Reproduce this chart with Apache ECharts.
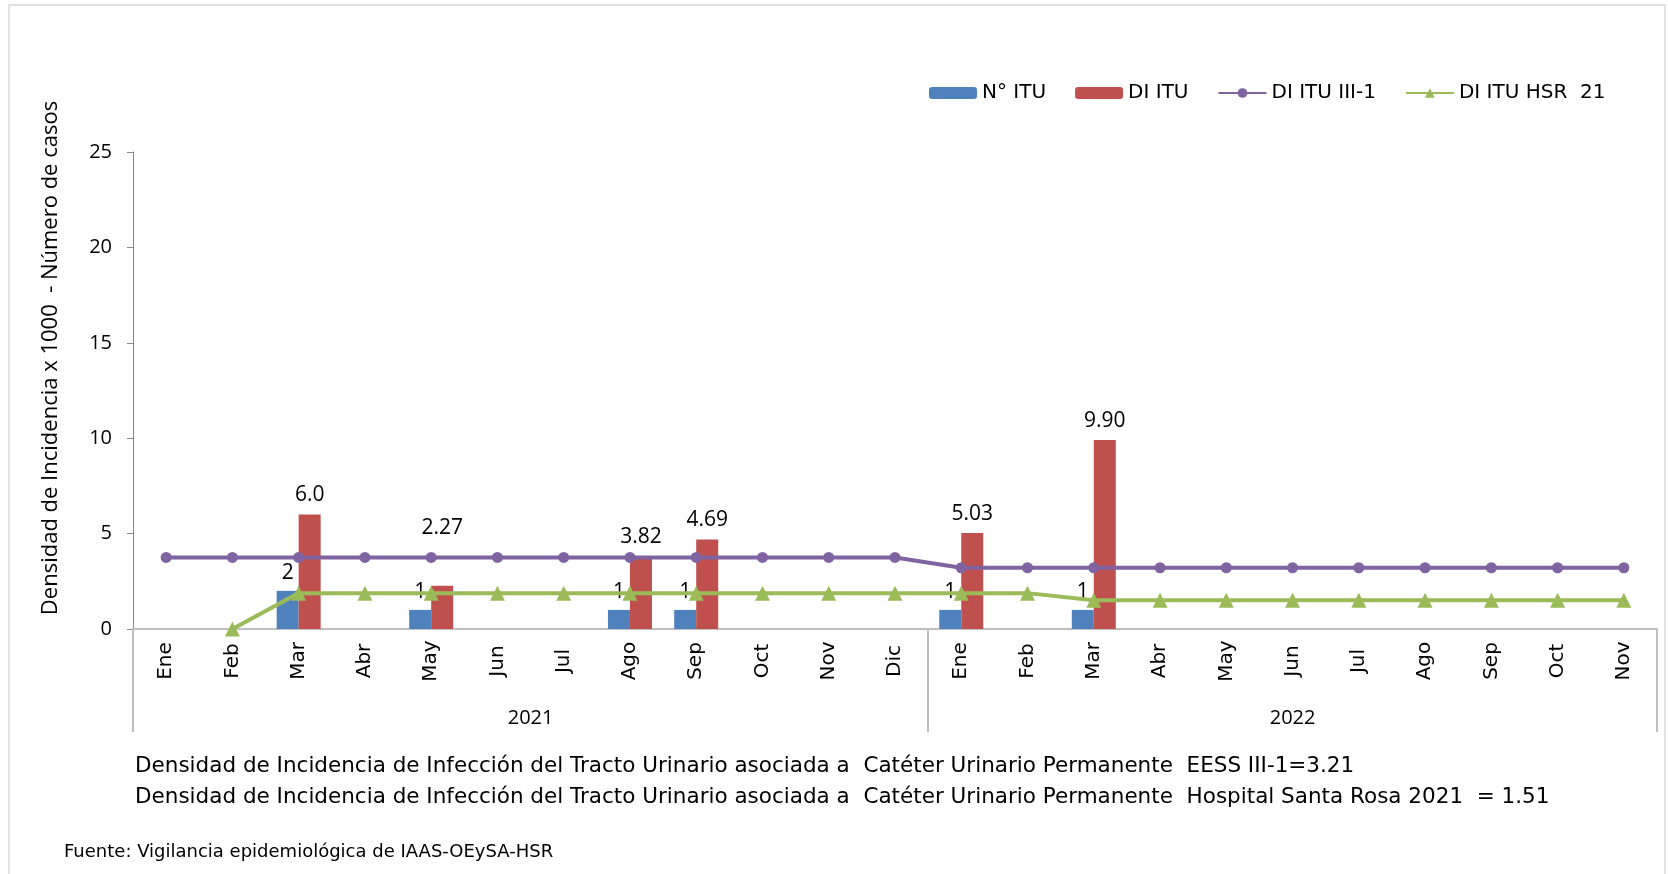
<!DOCTYPE html>
<html>
<head>
<meta charset="utf-8">
<script src="https://cdn.jsdelivr.net/npm/echarts@6/dist/echarts.min.js"></script>
<style>
  html, body { margin: 0; padding: 0; background: #fff; }
  #chart { width: 1668px; height: 874px; }
</style>
</head>
<body>
<div id="chart"></div>
<script>
const months = ['Ene', 'Feb', 'Mar', 'Abr', 'May', 'Jun', 'Jul', 'Ago', 'Sep', 'Oct', 'Nov', 'Dic',
  'Ene', 'Feb', 'Mar', 'Abr', 'May', 'Jun', 'Jul', 'Ago', 'Sep', 'Oct', 'Nov'];
const years = ['2021', '2022'];
const yearSpan = [12, 11];

const nItu = [null, null, 2, null, 1, null, null, 1, 1, null, null, null,
  1, null, 1, null, null, null, null, null, null, null, null];
const diItu = [null, null, 6.0, null, 2.27, null, null, 3.82, 4.69, null, null, null,
  5.03, null, 9.90, null, null, null, null, null, null, null, null];
const diItuLabels = ['', '', '6.0', '', '2.27', '', '', '3.82', '4.69', '', '', '',
  '5.03', '', '9.90', '', '', '', '', '', '', '', ''];
const diItuIII1 = [3.75, 3.75, 3.75, 3.75, 3.75, 3.75, 3.75, 3.75, 3.75, 3.75, 3.75, 3.75,
  3.21, 3.21, 3.21, 3.21, 3.21, 3.21, 3.21, 3.21, 3.21, 3.21, 3.21];
const diItuHsr = [null, 0, 1.88, 1.88, 1.88, 1.88, 1.88, 1.88, 1.88, 1.88, 1.88, 1.88,
  1.88, 1.88, 1.51, 1.51, 1.51, 1.51, 1.51, 1.51, 1.51, 1.51, 1.51];

const yTicks = [0, 5, 10, 15, 20, 25];
const notes = [
  'Densidad de Incidencia de Infección del Tracto Urinario asociada a  Catéter Urinario Permanente  EESS III-1=3.21',
  'Densidad de Incidencia de Infección del Tracto Urinario asociada a  Catéter Urinario Permanente  Hospital Santa Rosa 2021  = 1.51'
];
const fuente = 'Fuente: Vigilancia epidemiológica de IAAS-OEySA-HSR';

const FONT = '"Open Sans", "Liberation Sans", sans-serif';
const WIDE = '"DejaVu Sans", sans-serif';

// year separators and label centres on a 0..23 scale
const yearEdges = [0];
yearSpan.forEach(s => yearEdges.push(yearEdges[yearEdges.length - 1] + s));
const yearCenters = years.map((y, i) => (yearEdges[i] + yearEdges[i + 1]) / 2);

// the 2.27 label sits higher in the original
const redLift = diItu.map((v, i) => (i === 4 ? 47 : 9));

const chart = echarts.init(document.getElementById('chart'));
chart.setOption({
  animation: false,
  textStyle: { fontFamily: FONT },
  grid: { left: 133, right: 11, top: 152, bottom: 245, containLabel: false },
  legend: {
    left: 924,
    top: 78,
    itemWidth: 48,
    itemHeight: 12,
    itemGap: 29,
    textStyle: { fontSize: 20, color: '#000', fontFamily: WIDE },
    data: ['N° ITU', 'DI ITU', 'DI ITU III-1', 'DI ITU HSR  21']
  },
  xAxis: [
    {
      type: 'category',
      data: months,
      axisLine: { lineStyle: { color: '#bfbfbf', width: 2 } },
      axisTick: { show: false },
      axisLabel: {
        rotate: 90,
        align: 'center',
        verticalAlign: 'middle',
        margin: 32,
        fontSize: 20,
        fontFamily: WIDE,
        color: '#000',
        interval: 0
      }
    },
    {
      type: 'value',
      min: 0,
      max: 23,
      position: 'bottom',
      offset: 103,
      axisLine: { show: false },
      splitLine: { show: false },
      axisTick: {
        show: true,
        inside: true,
        length: 103,
        customValues: yearEdges,
        lineStyle: { color: '#bfbfbf', width: 2 }
      },
      axisLabel: {
        inside: true,
        margin: 14,
        verticalAlign: 'middle',
        customValues: yearCenters,
        formatter: v => years[yearCenters.indexOf(v)] || '',
        fontSize: 20,
        color: '#000'
      }
    }
  ],
  yAxis: {
    type: 'value',
    min: yTicks[0],
    max: yTicks[yTicks.length - 1],
    interval: 5,
    axisLine: { show: true, lineStyle: { color: '#868686', width: 1 } },
    axisTick: { show: true, length: 6, lineStyle: { color: '#868686' } },
    axisLabel: { fontSize: 20, color: '#000', margin: 21 },
    splitLine: { show: false }
  },
  series: [
    {
      name: 'N° ITU',
      type: 'bar',
      data: nItu,
      barWidth: 22,
      barGap: '0%',
      itemStyle: { color: '#4f81bd' },
      label: { show: true, position: 'top', distance: 7, fontSize: 21, color: '#000' }
    },
    {
      name: 'DI ITU',
      type: 'bar',
      data: diItu.map((v, i) => ({
        value: v,
        label: { distance: redLift[i] }
      })),
      barWidth: 22,
      itemStyle: { color: '#c0504d' },
      label: {
        show: true,
        position: 'top',
        fontSize: 21,
        color: '#000',
        formatter: p => diItuLabels[p.dataIndex]
      }
    },
    {
      name: 'DI ITU III-1',
      type: 'line',
      data: diItuIII1,
      symbol: 'circle',
      symbolSize: 11,
      itemStyle: { color: '#8064a2' },
      lineStyle: { color: '#8064a2', width: 4 },
      z: 5
    },
    {
      name: 'DI ITU HSR  21',
      type: 'line',
      data: diItuHsr,
      symbol: 'triangle',
      symbolSize: 15,
      itemStyle: { color: '#9bbb59' },
      lineStyle: { color: '#9bbb59', width: 4 },
      z: 6
    }
  ],
  graphic: [
    {
      type: 'rect',
      shape: { x: 9, y: 5, width: 1656, height: 880 },
      style: { fill: 'none', stroke: '#d9d9d9', lineWidth: 1.5 },
      silent: true
    },
    {
      type: 'text',
      x: 51,
      y: 358,
      rotation: Math.PI / 2,
      style: {
        text: 'Densidad de Incidencia x 1000  - Número de casos',
        fontSize: 22,
        fontFamily: FONT,
        fill: '#000',
        align: 'center',
        verticalAlign: 'middle'
      }
    },
    {
      type: 'text',
      x: 135,
      y: 766,
      style: { text: notes[0], fontSize: 21.5, fontFamily: WIDE, fill: '#000', verticalAlign: 'middle' }
    },
    {
      type: 'text',
      x: 135,
      y: 797,
      style: { text: notes[1], fontSize: 21.5, fontFamily: WIDE, fill: '#000', verticalAlign: 'middle' }
    },
    {
      type: 'text',
      x: 64,
      y: 852,
      style: { text: fuente, fontSize: 18, fontFamily: WIDE, fill: '#000', verticalAlign: 'middle' }
    }
  ]
});
</script>
</body>
</html>
